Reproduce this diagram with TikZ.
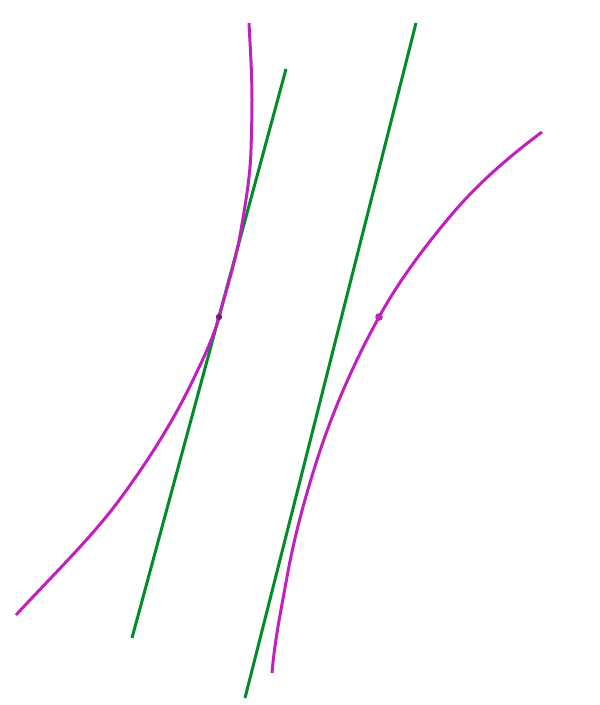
\documentclass[tikz,border=0pt]{standalone}
\definecolor{mag}{RGB}{192,32,190}
\definecolor{grn}{RGB}{0,140,40}
\begin{document}
\begin{tikzpicture}[x=1pt,y=-1pt,
  curve/.style={mag,line width=3pt},
  tline/.style={grn,line width=3pt}]
\useasboundingbox (0,0) rectangle (600,705);
% tangent lines
\coordinate (l1) at (132,638);
\coordinate (l2) at (286,69);
\coordinate (r1) at (245,698);
\coordinate (r2) at (416,23);
\draw[tline] (l1) -- (l2);
\draw[tline] (r1) -- (r2);
% left branch
\draw[curve] (16,615) .. controls (50.3,577.7) and (89,540.3) .. (117,503)
  .. controls (147.8,462) and (173.3,421) .. (193,380)
  .. controls (203.1,359) and (213.3,338) .. (219,317)
  .. controls (226.9,288) and (236.1,259) .. (241,230)
  .. controls (245.5,203.3) and (250.2,176.7) .. (251,150)
  .. controls (251.5,133.3) and (252,116.7) .. (252,100)
  .. controls (252,74.3) and (250.3,48.7) .. (249,23);
% right branch
\draw[curve] (272,673) .. controls (274.6,641) and (281.2,609) .. (287,577)
  .. controls (294,538) and (304.5,499) .. (317,460)
  .. controls (332.3,412.3) and (352.8,364.7) .. (379,317)
  .. controls (398.1,282.3) and (423.5,247.7) .. (453,213)
  .. controls (476,186) and (505.6,159) .. (542,132);
% points
\coordinate (p1) at (219,317);
\coordinate (p2) at (379,317);
\fill[mag!65!black] (p1) circle (3.2pt);
\fill[mag] (p2) circle (3.8pt);
\end{tikzpicture}
\end{document}
